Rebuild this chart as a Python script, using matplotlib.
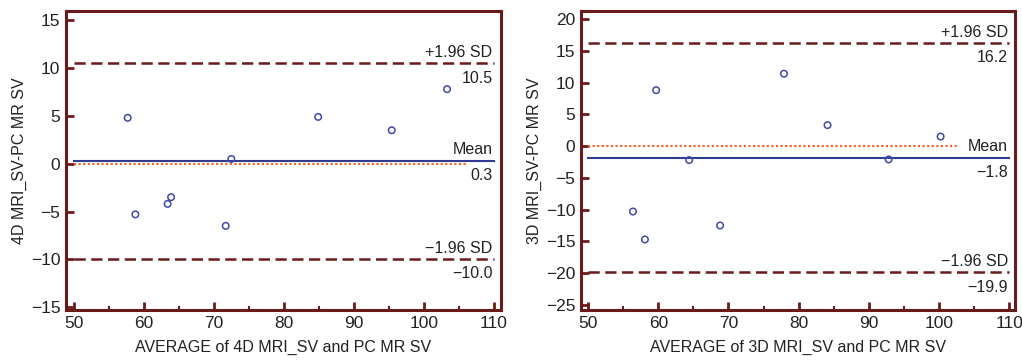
import numpy as np
import matplotlib.pyplot as plt
from matplotlib.ticker import MultipleLocator

plt.rcParams['font.family'] = ['Liberation Sans', 'DejaVu Sans']

# 4D MRI vs PC MR
avg_4d = [57.7, 58.8, 63.4, 63.9, 71.7, 72.5, 84.9, 95.4, 103.3]
diff_4d = [4.8, -5.3, -4.2, -3.5, -6.5, 0.5, 4.9, 3.5, 7.8]
mean_4d, upper_4d, lower_4d = 0.3, 10.5, -10.0

# 3D MRI vs PC MR
avg_3d = [56.4, 58.1, 59.7, 64.4, 68.8, 77.9, 84.1, 92.8, 100.2]
diff_3d = [-10.3, -14.7, 8.8, -2.2, -12.5, 11.4, 3.3, -2.1, 1.5]
mean_3d, upper_3d, lower_3d = -1.8, 16.2, -19.9

maroon = '#6b1a1a'
blue = '#2e3d8f'
orange = '#ff5a1f'

fig = plt.figure(figsize=(10.22, 3.6), dpi=100)
ax1 = fig.add_axes([0.0646, 0.139, 0.4256, 0.831])
ax2 = fig.add_axes([0.5685, 0.139, 0.4247, 0.831])


def bland_altman(ax, x, d, mean, up, lo, ylim, zero_end, label):
    ax.plot([50, 110], [up, up], color=maroon, lw=1.8, ls=(0, (4.5, 2.2)))
    ax.plot([50, 110], [lo, lo], color=maroon, lw=1.8, ls=(0, (4.5, 2.2)))
    ax.plot([50, 110], [mean, mean], color=blue, lw=1.5)
    ax.plot([50, zero_end], [0, 0], color=orange, lw=1.5, ls=(0, (1, 1.2)))
    ax.scatter(x, d, s=22, facecolors='none', edgecolors='#4048a8', linewidths=1.1, zorder=5)

    span = ylim[1] - ylim[0]
    off = span * 0.012
    tx = 109.8
    for y, top, val in [(up, '+1.96 SD', f'{up:.1f}'),
                        (mean, 'Mean', f'{mean:.1f}'),
                        (lo, '\u22121.96 SD', f'{lo:.1f}')]:
        ax.text(tx, y + off, top, ha='right', va='bottom', fontsize=11.5, color='#222222')
        ax.text(tx, y - off * 2, val.replace('-', '\u2212'), ha='right', va='top',
                fontsize=11.5, color='#222222')

    ax.set_xlim(48.9, 111.0)
    ax.set_ylim(*ylim)
    ax.xaxis.set_major_locator(MultipleLocator(10))
    ax.xaxis.set_minor_locator(MultipleLocator(5))
    ax.yaxis.set_major_locator(MultipleLocator(5))
    for s in ax.spines.values():
        s.set_color(maroon)
        s.set_linewidth(2.2)
    ax.tick_params(axis='both', which='major', direction='in', length=6, width=2,
                   color=maroon, labelsize=12.5, labelcolor='#222222', pad=4)
    ax.tick_params(axis='x', which='minor', direction='in', length=3, width=1.5, color=maroon)
    ax.set_xlabel(label[0], fontsize=11.5, color='#222222', labelpad=7)
    ax.set_ylabel(label[1], fontsize=11.5, color='#222222', labelpad=3)


bland_altman(ax1, avg_4d, diff_4d, mean_4d, upper_4d, lower_4d, (-15.3, 16.0), 106,
             ('AVERAGE of 4D MRI_SV and PC MR SV', '4D MRI_SV-PC MR SV'))
bland_altman(ax2, avg_3d, diff_3d, mean_3d, upper_3d, lower_3d, (-25.8, 21.3), 102.5,
             ('AVERAGE of 3D MRI_SV and PC MR SV', '3D MRI_SV-PC MR SV'))
ax2.set_xlim(49.0, 110.8)

fig.savefig('out.png', dpi=100)
